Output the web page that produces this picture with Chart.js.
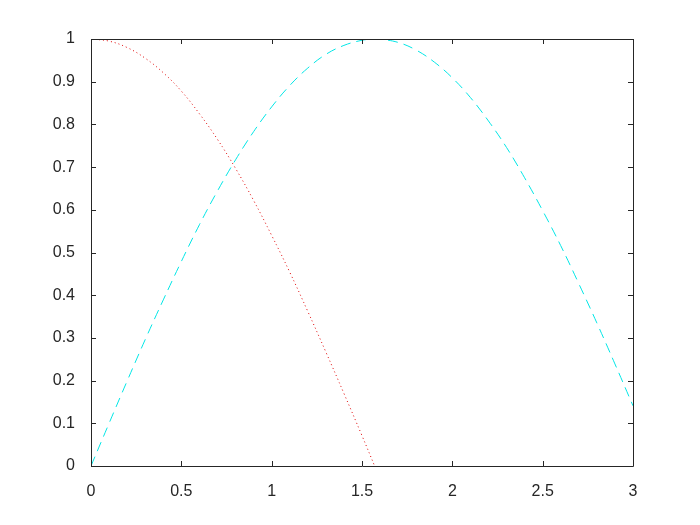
<!DOCTYPE html>
<html>
<head>
<meta charset="utf-8">
<script src="https://cdn.jsdelivr.net/npm/chart.js@4/dist/chart.umd.min.js"></script>
<style>
  html, body { margin: 0; padding: 0; background: #fff; }
  #wrap { width: 700px; height: 525px; }
</style>
</head>
<body>
<div id="wrap"><canvas id="plot" width="700" height="525"></canvas></div>
<script>
// values
const sinX = [0, 0.1, 0.2, 0.3, 0.4, 0.5, 0.6, 0.7, 0.8, 0.9, 1.0, 1.1, 1.2, 1.3, 1.4, 1.5, 1.57,
              1.6, 1.7, 1.8, 1.9, 2.0, 2.1, 2.2, 2.3, 2.4, 2.5, 2.6, 2.7, 2.8, 2.9, 3.0];
const sinY = [0, 0.100, 0.199, 0.296, 0.389, 0.479, 0.565, 0.644, 0.717, 0.783, 0.841, 0.891, 0.932, 0.964, 0.985, 0.997, 1.000,
              0.9996, 0.992, 0.974, 0.946, 0.909, 0.863, 0.808, 0.746, 0.675, 0.598, 0.516, 0.427, 0.335, 0.239, 0.141];
const cosX = [0, 0.1, 0.2, 0.3, 0.4, 0.5, 0.6, 0.7, 0.8, 0.9, 1.0, 1.1, 1.2, 1.3, 1.4, 1.5, 1.57];
const cosY = [1, 0.995, 0.980, 0.955, 0.921, 0.878, 0.825, 0.765, 0.697, 0.622, 0.540, 0.454, 0.362, 0.267, 0.170, 0.071, 0.0];
const xTicks = [0, 0.5, 1, 1.5, 2, 2.5, 3];
const yTicks = [0, 0.1, 0.2, 0.3, 0.4, 0.5, 0.6, 0.7, 0.8, 0.9, 1];

const toPoints = (xs, ys) => xs.map((x, i) => ({ x: x, y: ys[i] }));

// matlab style box with inward ticks on all four sides
const boxPlugin = {
    id: 'box',
    afterDraw(chart) {
        const { ctx, chartArea: a, scales } = chart;
        const len = 5;
        ctx.save();
        ctx.strokeStyle = '#262626';
        ctx.lineWidth = 1;
        ctx.beginPath();
        ctx.rect(Math.round(a.left) + 0.5, Math.round(a.top) + 0.5,
                 Math.round(a.right - a.left), Math.round(a.bottom - a.top));
        xTicks.forEach(v => {
            const px = Math.round(scales.x.getPixelForValue(v)) + 0.5;
            ctx.moveTo(px, a.bottom); ctx.lineTo(px, a.bottom - len);
            ctx.moveTo(px, a.top); ctx.lineTo(px, a.top + len);
        });
        yTicks.forEach(v => {
            const py = Math.round(scales.y.getPixelForValue(v)) + 0.5;
            ctx.moveTo(a.left, py); ctx.lineTo(a.left + len, py);
            ctx.moveTo(a.right, py); ctx.lineTo(a.right - len, py);
        });
        ctx.stroke();
        ctx.restore();
    }
};

const tickFont = { family: "'Liberation Sans', Arial, sans-serif", size: 16 };

new Chart(document.getElementById('plot').getContext('2d'), {
    type: 'line',
    data: {
        datasets: [
            {
                data: toPoints(sinX, sinY),
                borderColor: '#00e6e6',
                borderWidth: 1,
                borderDash: [10, 6],
                pointRadius: 0,
                tension: 0.4,
                fill: false
            },
            {
                data: toPoints(cosX, cosY),
                borderColor: '#e00000',
                borderWidth: 1,
                borderDash: [1, 3],
                pointRadius: 0,
                tension: 0.4,
                fill: false
            }
        ]
    },
    options: {
        responsive: false,
        animation: false,
        layout: { padding: { top: 39, right: 67, left: 0, bottom: 0 } },
        scales: {
            x: {
                type: 'linear',
                min: 0,
                max: 3,
                afterBuildTicks: s => { s.ticks = xTicks.map(v => ({ value: v })); },
                afterFit: s => { s.height = 59; },
                grid: { display: false },
                border: { display: false },
                ticks: {
                    font: tickFont,
                    color: '#262626',
                    padding: 8,
                    maxRotation: 0,
                    callback: v => String(v)
                }
            },
            y: {
                min: 0,
                max: 1,
                afterBuildTicks: s => { s.ticks = yTicks.map(v => ({ value: v })); },
                afterFit: s => { s.width = 91; },
                grid: { display: false },
                border: { display: false },
                ticks: {
                    font: tickFont,
                    color: '#262626',
                    padding: 8,
                    callback: v => String(v)
                }
            }
        },
        plugins: {
            legend: { display: false },
            tooltip: { enabled: false }
        }
    },
    plugins: [boxPlugin]
});
</script>
</body>
</html>
